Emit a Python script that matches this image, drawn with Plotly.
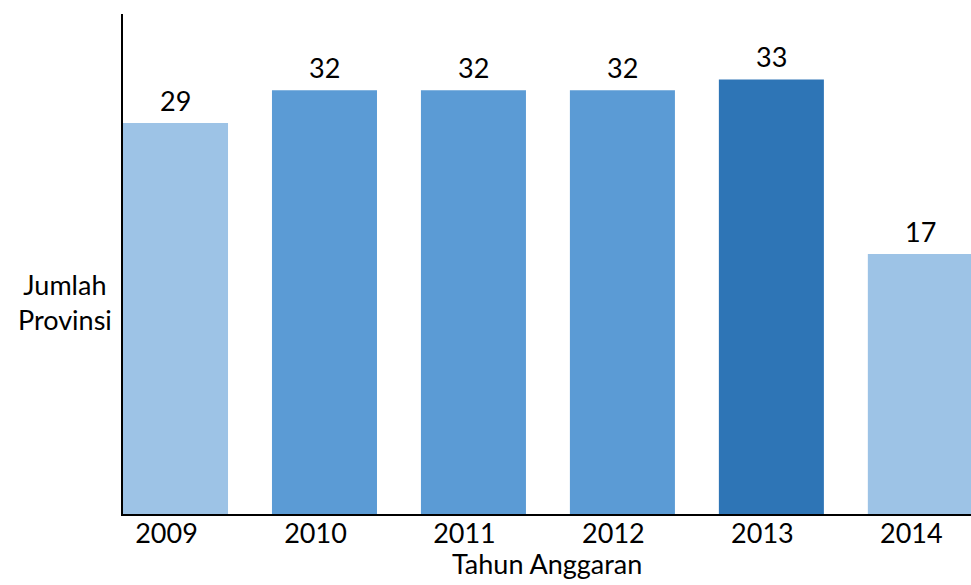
import plotly.graph_objects as go

years = ["2009", "2010", "2011", "2012", "2013", "2014"]
values = [29, 32, 32, 32, 33, 17]
colors = ["#9DC3E6", "#5B9BD5", "#5B9BD5", "#5B9BD5", "#2E75B6", "#9DC3E6"]

y_min, y_max = -6.85, 39.0
FONT = "Lato"

fig = go.Figure()
fig.add_trace(go.Bar(
    x=years, y=[v - y_min for v in values], base=y_min,
    marker=dict(color=colors, line=dict(width=0)),
    width=0.705, hoverinfo="skip",
))

for i, v in enumerate(values):
    fig.add_annotation(xref="x", yref="y", x=i, y=v, text=str(v),
                       showarrow=False, yanchor="bottom", yshift=4,
                       font=dict(family=FONT, size=27, color="#000"))

fig.add_annotation(xref="paper", yref="paper", x=-0.068, y=0.425,
                   text="Jumlah<br>Provinsi", showarrow=False, align="center",
                   xanchor="center", yanchor="middle",
                   font=dict(family=FONT, size=27, color="#000"))

fig.add_annotation(xref="paper", yref="paper", x=0.5, y=-0.136,
                   text="Tahun Anggaran", showarrow=False,
                   xanchor="center", yanchor="bottom",
                   font=dict(family=FONT, size=27, color="#000"))

fig.update_layout(
    width=971, height=585,
    margin=dict(l=123, r=0, t=14, b=71),
    plot_bgcolor="white", paper_bgcolor="white",
    showlegend=False,
    font=dict(family=FONT, size=27, color="#000"),
    xaxis=dict(type="category", range=[-0.3525, 5.34], showline=True,
               linecolor="#000", linewidth=2, ticks="", showgrid=False,
               tickfont=dict(size=27), ticklabelshift=-9,
               ticklabelstandoff=-5),
    yaxis=dict(range=[y_min, y_max], showline=True, linecolor="#000",
               linewidth=2, showticklabels=False, showgrid=False,
               zeroline=False, ticks=""),
)

fig.write_html("out.html")
